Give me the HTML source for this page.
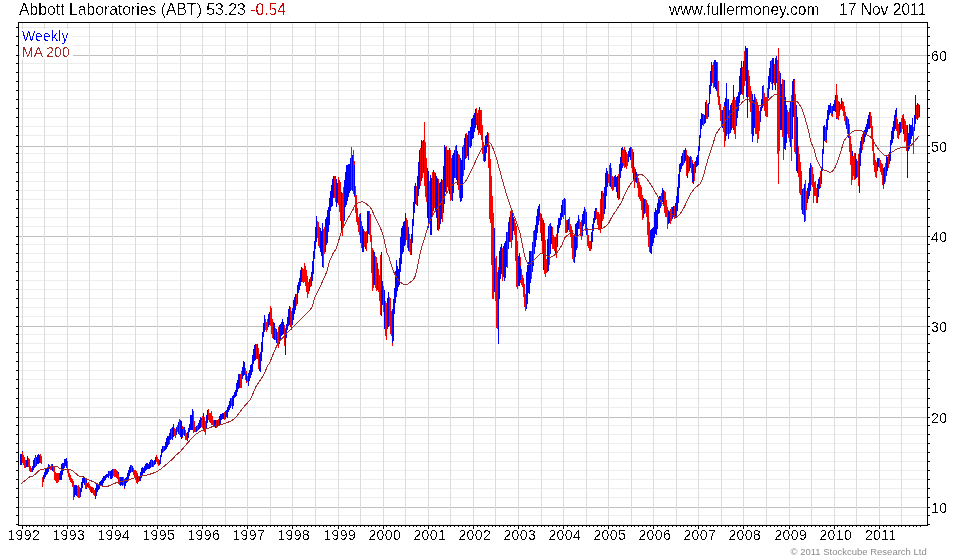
<!DOCTYPE html>
<html><head><meta charset="utf-8"><title>Abbott Laboratories (ABT)</title>
<style>
html,body{margin:0;padding:0;background:#fff;}
body{width:980px;height:560px;overflow:hidden;position:relative;font-family:"Liberation Sans",Arial,sans-serif;}
svg{position:absolute;left:0;top:0;}
svg text{font-family:"Liberation Sans",Arial,sans-serif;}
.ax{font-size:14px;letter-spacing:0.4px;fill:#000;}
.t{position:absolute;white-space:nowrap;line-height:1;filter:url(#al);}
#title{left:19px;top:2px;font-size:15.75px;color:#000;}
#title span{color:#cc0000;}
#site{left:669px;top:2px;font-size:15.6px;color:#000;}
#date{left:839px;top:2px;font-size:15.6px;color:#000;}
#wk{left:22px;top:28.6px;font-size:14px;letter-spacing:0.15px;color:#0000ff;}
#ma{left:22px;top:45px;font-size:14px;letter-spacing:0.05px;color:#a52a2a;}
#copy{left:790.5px;top:547px;font-size:9.5px;color:#8c8c8c;filter:none !important;}
</style></head><body>
<svg width="980" height="560" viewBox="0 0 980 560" shape-rendering="crispEdges"><defs><filter id="al" x="0" y="0" width="100%" height="100%" color-interpolation-filters="sRGB"><feComponentTransfer><feFuncA type="discrete" tableValues="0 0 0 1 1"/></feComponentTransfer></filter><filter id="al2" x="0" y="0" width="100%" height="100%" color-interpolation-filters="sRGB"><feComponentTransfer><feFuncA type="discrete" tableValues="0 0 1 1 1"/></feComponentTransfer></filter></defs><path d="M19 524.5H927M19 515.5H927M19 497.5H927M19 488.5H927M19 479.5H927M19 470.5H927M19 461.5H927M19 452.5H927M19 443.5H927M19 434.5H927M19 425.5H927M19 407.5H927M19 398.5H927M19 388.5H927M19 379.5H927M19 370.5H927M19 361.5H927M19 352.5H927M19 343.5H927M19 334.5H927M19 316.5H927M19 307.5H927M19 298.5H927M19 289.5H927M19 280.5H927M19 271.5H927M19 262.5H927M19 253.5H927M19 244.5H927M19 226.5H927M19 217.5H927M19 208.5H927M19 199.5H927M19 190.5H927M19 181.5H927M19 172.5H927M19 162.5H927M19 153.5H927M19 135.5H927M19 126.5H927M19 117.5H927M19 108.5H927M19 99.5H927M19 90.5H927M19 81.5H927M19 72.5H927M19 63.5H927M19 45.5H927M19 36.5H927M19 27.5H927" stroke="#ededed" stroke-width="1" fill="none"/><path d="M19 507.5H927M19 417.5H927M19 326.5H927M19 236.5H927M19 146.5H927M19 55.5H927" stroke="#c0c0c0" stroke-width="1" fill="none"/><path d="M22.5 23V525M44.5 23V525M67.5 23V525M89.5 23V525M112.5 23V525M135.5 23V525M157.5 23V525M180.5 23V525M202.5 23V525M225.5 23V525M247.5 23V525M270.5 23V525M292.5 23V525M315.5 23V525M338.5 23V525M360.5 23V525M383.5 23V525M405.5 23V525M428.5 23V525M450.5 23V525M473.5 23V525M495.5 23V525M518.5 23V525M541.5 23V525M563.5 23V525M586.5 23V525M608.5 23V525M631.5 23V525M653.5 23V525M676.5 23V525M698.5 23V525M721.5 23V525M743.5 23V525M766.5 23V525M789.5 23V525M811.5 23V525M834.5 23V525M856.5 23V525M879.5 23V525M901.5 23V525" stroke="#dcdcdc" stroke-width="1" fill="none"/><rect x="20" y="29" width="52" height="14" fill="#fff"/><rect x="20" y="44" width="53" height="15" fill="#fff"/><path d="M20.5 454V465M21.5 454V465M22.5 451V461" stroke="#0000ff" stroke-width="1" fill="none"/><path d="M22.5 452V463M23.5 455V465M24.5 457V468M25.5 460V468" stroke="#ff0000" stroke-width="1" fill="none"/><path d="M26.5 460V467M27.5 456V467" stroke="#0000ff" stroke-width="1" fill="none"/><path d="M28.5 458V467M29.5 459V469M29.5 462V471M30.5 466V472M31.5 468V472" stroke="#ff0000" stroke-width="1" fill="none"/><path d="M32.5 466V472M33.5 460V470M34.5 458V468M35.5 455V467" stroke="#0000ff" stroke-width="1" fill="none"/><path d="M35.5 457V466" stroke="#ff0000" stroke-width="1" fill="none"/><path d="M36.5 457V466M37.5 455V464M38.5 454V464M39.5 455V463" stroke="#0000ff" stroke-width="1" fill="none"/><path d="M40.5 454V463M41.5 456V464M42.5 477V487M42.5 477V485" stroke="#ff0000" stroke-width="1" fill="none"/><path d="M43.5 475V482M44.5 472V479M45.5 469V477M46.5 468V475M47.5 467V474M48.5 465V472M48.5 464V470M49.5 465V469" stroke="#0000ff" stroke-width="1" fill="none"/><path d="M50.5 466V470M51.5 464V470" stroke="#ff0000" stroke-width="1" fill="none"/><path d="M52.5 464V471" stroke="#0000ff" stroke-width="1" fill="none"/><path d="M53.5 466V472M54.5 467V477M54.5 471V480M55.5 472V481M56.5 473V483M57.5 473V483M58.5 473V482" stroke="#ff0000" stroke-width="1" fill="none"/><path d="M59.5 473V480M60.5 471V480M61.5 467V480M61.5 464V478M62.5 463V475M63.5 463V471M64.5 459V468M65.5 459V466M66.5 458V468" stroke="#0000ff" stroke-width="1" fill="none"/><path d="M67.5 461V469M67.5 464V473M68.5 469V477M69.5 473V480M70.5 475V482M71.5 478V483M72.5 479V487M73.5 481V495M73.5 484V500" stroke="#ff0000" stroke-width="1" fill="none"/><path d="M74.5 485V497M75.5 485V495M76.5 485V496" stroke="#0000ff" stroke-width="1" fill="none"/><path d="M77.5 486V497M78.5 485V498M79.5 487V498" stroke="#ff0000" stroke-width="1" fill="none"/><path d="M80.5 489V497M80.5 488V495M81.5 482V492M82.5 478V488M83.5 476V483M84.5 477V485" stroke="#0000ff" stroke-width="1" fill="none"/><path d="M85.5 479V489" stroke="#ff0000" stroke-width="1" fill="none"/><path d="M86.5 480V489" stroke="#0000ff" stroke-width="1" fill="none"/><path d="M86.5 483V488" stroke="#ff0000" stroke-width="1" fill="none"/><path d="M87.5 483V487" stroke="#0000ff" stroke-width="1" fill="none"/><path d="M88.5 482V488M89.5 484V490M90.5 486V492" stroke="#ff0000" stroke-width="1" fill="none"/><path d="M91.5 487V493" stroke="#0000ff" stroke-width="1" fill="none"/><path d="M92.5 487V493" stroke="#ff0000" stroke-width="1" fill="none"/><path d="M93.5 488V494" stroke="#0000ff" stroke-width="1" fill="none"/><path d="M93.5 489V495M94.5 490V496" stroke="#ff0000" stroke-width="1" fill="none"/><path d="M95.5 488V499M96.5 484V496M97.5 483V492M98.5 484V490M99.5 483V489M99.5 482V487M100.5 481V486M101.5 480V485M102.5 478V486M103.5 476V483M104.5 476V481M105.5 476V480M105.5 475V479M106.5 474V478M107.5 474V477M108.5 471V478" stroke="#0000ff" stroke-width="1" fill="none"/><path d="M109.5 471V476" stroke="#ff0000" stroke-width="1" fill="none"/><path d="M110.5 471V479M111.5 470V479M112.5 470V478M112.5 469V476" stroke="#0000ff" stroke-width="1" fill="none"/><path d="M113.5 469V476M114.5 469V477M115.5 469V477M116.5 470V478M117.5 471V479" stroke="#ff0000" stroke-width="1" fill="none"/><path d="M118.5 472V481" stroke="#0000ff" stroke-width="1" fill="none"/><path d="M118.5 474V484M119.5 477V485" stroke="#ff0000" stroke-width="1" fill="none"/><path d="M120.5 477V486M121.5 477V485M122.5 477V486" stroke="#0000ff" stroke-width="1" fill="none"/><path d="M123.5 477V485M124.5 479V489" stroke="#ff0000" stroke-width="1" fill="none"/><path d="M124.5 479V488M125.5 478V486M126.5 477V483M127.5 473V482M128.5 470V480M129.5 467V476M130.5 465V473M131.5 465V472" stroke="#0000ff" stroke-width="1" fill="none"/><path d="M131.5 465V472" stroke="#ff0000" stroke-width="1" fill="none"/><path d="M132.5 466V472" stroke="#0000ff" stroke-width="1" fill="none"/><path d="M133.5 468V475M134.5 470V477M135.5 470V480M136.5 471V483M137.5 473V484" stroke="#ff0000" stroke-width="1" fill="none"/><path d="M137.5 475V481" stroke="#0000ff" stroke-width="1" fill="none"/><path d="M138.5 477V482" stroke="#ff0000" stroke-width="1" fill="none"/><path d="M139.5 476V481M140.5 472V481M141.5 468V478M142.5 467V475M143.5 468V473M144.5 467V473M144.5 466V472M145.5 464V471M146.5 463V470M147.5 463V469M148.5 464V469M149.5 462V469M150.5 462V468M150.5 460V467" stroke="#0000ff" stroke-width="1" fill="none"/><path d="M151.5 459V467" stroke="#ff0000" stroke-width="1" fill="none"/><path d="M152.5 460V467" stroke="#0000ff" stroke-width="1" fill="none"/><path d="M153.5 461V467" stroke="#ff0000" stroke-width="1" fill="none"/><path d="M154.5 460V465M155.5 457V464M156.5 456V462" stroke="#0000ff" stroke-width="1" fill="none"/><path d="M156.5 455V462M157.5 457V464M158.5 459V466" stroke="#ff0000" stroke-width="1" fill="none"/><path d="M159.5 460V465M160.5 455V464M161.5 449V457M162.5 446V453" stroke="#0000ff" stroke-width="1" fill="none"/><path d="M163.5 446V452M163.5 446V451" stroke="#ff0000" stroke-width="1" fill="none"/><path d="M164.5 446V451M165.5 442V450M166.5 438V449M167.5 436V447M168.5 436V445" stroke="#0000ff" stroke-width="1" fill="none"/><path d="M169.5 433V444" stroke="#ff0000" stroke-width="1" fill="none"/><path d="M169.5 433V440M170.5 429V440" stroke="#0000ff" stroke-width="1" fill="none"/><path d="M171.5 428V439" stroke="#ff0000" stroke-width="1" fill="none"/><path d="M172.5 427V440M173.5 424V437" stroke="#0000ff" stroke-width="1" fill="none"/><path d="M174.5 428V436M175.5 429V438" stroke="#ff0000" stroke-width="1" fill="none"/><path d="M176.5 428V435M176.5 427V434" stroke="#0000ff" stroke-width="1" fill="none"/><path d="M177.5 425V432" stroke="#ff0000" stroke-width="1" fill="none"/><path d="M178.5 422V434" stroke="#0000ff" stroke-width="1" fill="none"/><path d="M179.5 419V435" stroke="#ff0000" stroke-width="1" fill="none"/><path d="M180.5 420V437M181.5 421V439" stroke="#0000ff" stroke-width="1" fill="none"/><path d="M182.5 426V438" stroke="#ff0000" stroke-width="1" fill="none"/><path d="M182.5 429V437" stroke="#0000ff" stroke-width="1" fill="none"/><path d="M183.5 427V435" stroke="#ff0000" stroke-width="1" fill="none"/><path d="M184.5 427V436" stroke="#0000ff" stroke-width="1" fill="none"/><path d="M185.5 430V440M186.5 433V440" stroke="#ff0000" stroke-width="1" fill="none"/><path d="M187.5 432V441M188.5 431V438M188.5 428V434M189.5 424V432M190.5 415V430M191.5 415V430M192.5 409V430" stroke="#0000ff" stroke-width="1" fill="none"/><path d="M193.5 411V433M194.5 421V432M195.5 427V431M195.5 427V432" stroke="#ff0000" stroke-width="1" fill="none"/><path d="M196.5 426V432" stroke="#0000ff" stroke-width="1" fill="none"/><path d="M197.5 425V431" stroke="#ff0000" stroke-width="1" fill="none"/><path d="M198.5 423V430M199.5 420V429M200.5 417V428M201.5 418V426" stroke="#0000ff" stroke-width="1" fill="none"/><path d="M201.5 420V427M202.5 416V428" stroke="#ff0000" stroke-width="1" fill="none"/><path d="M203.5 413V431" stroke="#0000ff" stroke-width="1" fill="none"/><path d="M204.5 417V432M205.5 421V435" stroke="#ff0000" stroke-width="1" fill="none"/><path d="M206.5 415V429M207.5 413V423M207.5 410V422" stroke="#0000ff" stroke-width="1" fill="none"/><path d="M208.5 409V420M209.5 413V422M210.5 413V423M211.5 411V425M212.5 416V425M213.5 420V426" stroke="#ff0000" stroke-width="1" fill="none"/><path d="M214.5 420V427M214.5 420V427M215.5 420V428" stroke="#0000ff" stroke-width="1" fill="none"/><path d="M216.5 420V428" stroke="#ff0000" stroke-width="1" fill="none"/><path d="M217.5 420V427" stroke="#0000ff" stroke-width="1" fill="none"/><path d="M218.5 419V426" stroke="#ff0000" stroke-width="1" fill="none"/><path d="M219.5 416V425M220.5 415V424M220.5 414V422M221.5 414V420M222.5 413V419M223.5 413V419" stroke="#0000ff" stroke-width="1" fill="none"/><path d="M224.5 412V420" stroke="#ff0000" stroke-width="1" fill="none"/><path d="M225.5 411V419M226.5 410V417M227.5 408V418M227.5 407V413M228.5 405V412M229.5 401V410M230.5 398V408" stroke="#0000ff" stroke-width="1" fill="none"/><path d="M231.5 398V406" stroke="#ff0000" stroke-width="1" fill="none"/><path d="M232.5 396V409M233.5 397V406M233.5 395V400M234.5 392V398M235.5 390V397M236.5 383V396M237.5 380V392M238.5 374V389" stroke="#0000ff" stroke-width="1" fill="none"/><path d="M239.5 374V388" stroke="#ff0000" stroke-width="1" fill="none"/><path d="M239.5 374V388" stroke="#0000ff" stroke-width="1" fill="none"/><path d="M240.5 374V388M241.5 371V388" stroke="#ff0000" stroke-width="1" fill="none"/><path d="M242.5 367V379M243.5 361V376M244.5 362V375" stroke="#0000ff" stroke-width="1" fill="none"/><path d="M245.5 368V380M246.5 371V383" stroke="#ff0000" stroke-width="1" fill="none"/><path d="M246.5 374V381" stroke="#0000ff" stroke-width="1" fill="none"/><path d="M247.5 376V382" stroke="#ff0000" stroke-width="1" fill="none"/><path d="M248.5 373V386M249.5 370V381M250.5 365V378M251.5 364V375M252.5 361V372M252.5 355V366M253.5 349V364M254.5 345V361M255.5 344V360" stroke="#0000ff" stroke-width="1" fill="none"/><path d="M256.5 344V359" stroke="#ff0000" stroke-width="1" fill="none"/><path d="M257.5 344V359" stroke="#0000ff" stroke-width="1" fill="none"/><path d="M258.5 348V362M258.5 349V369" stroke="#ff0000" stroke-width="1" fill="none"/><path d="M259.5 354V371M260.5 352V372M261.5 342V361M262.5 332V352M263.5 323V337M264.5 315V332M265.5 319V330" stroke="#0000ff" stroke-width="1" fill="none"/><path d="M265.5 319V330M266.5 322V332M267.5 319V330" stroke="#ff0000" stroke-width="1" fill="none"/><path d="M268.5 314V327M269.5 312V325" stroke="#0000ff" stroke-width="1" fill="none"/><path d="M270.5 306V326M271.5 308V331M271.5 313V334M272.5 319V338" stroke="#ff0000" stroke-width="1" fill="none"/><path d="M273.5 322V339M274.5 323V340" stroke="#0000ff" stroke-width="1" fill="none"/><path d="M275.5 328V340" stroke="#ff0000" stroke-width="1" fill="none"/><path d="M276.5 329V343" stroke="#0000ff" stroke-width="1" fill="none"/><path d="M277.5 332V345" stroke="#ff0000" stroke-width="1" fill="none"/><path d="M278.5 331V347" stroke="#0000ff" stroke-width="1" fill="none"/><path d="M278.5 327V348" stroke="#ff0000" stroke-width="1" fill="none"/><path d="M279.5 325V344M280.5 324V339M281.5 322V336M282.5 319V335M283.5 322V334" stroke="#0000ff" stroke-width="1" fill="none"/><path d="M284.5 325V337M284.5 327V346M285.5 328V352" stroke="#ff0000" stroke-width="1" fill="none"/><path d="M286.5 324V338M287.5 317V330M288.5 309V326M289.5 306V325" stroke="#0000ff" stroke-width="1" fill="none"/><path d="M290.5 307V325M290.5 312V327M291.5 311V330" stroke="#ff0000" stroke-width="1" fill="none"/><path d="M292.5 308V325M293.5 300V320M294.5 297V314M295.5 294V310" stroke="#0000ff" stroke-width="1" fill="none"/><path d="M296.5 294V306" stroke="#ff0000" stroke-width="1" fill="none"/><path d="M297.5 289V304M297.5 285V299M298.5 282V293M299.5 278V290M300.5 270V286M301.5 267V282" stroke="#0000ff" stroke-width="1" fill="none"/><path d="M302.5 268V282" stroke="#ff0000" stroke-width="1" fill="none"/><path d="M303.5 271V283" stroke="#0000ff" stroke-width="1" fill="none"/><path d="M303.5 269V283M304.5 263V282M305.5 266V286M306.5 270V292M307.5 276V298M308.5 282V294" stroke="#ff0000" stroke-width="1" fill="none"/><path d="M309.5 280V291M309.5 279V291" stroke="#0000ff" stroke-width="1" fill="none"/><path d="M310.5 277V287" stroke="#ff0000" stroke-width="1" fill="none"/><path d="M311.5 272V286M312.5 261V281M313.5 251V274M314.5 241V259M315.5 227V249M316.5 217V242M316.5 216V238" stroke="#0000ff" stroke-width="1" fill="none"/><path d="M317.5 221V238M318.5 222V246M319.5 227V248" stroke="#ff0000" stroke-width="1" fill="none"/><path d="M320.5 228V252M321.5 231V256M322.5 232V262M322.5 223V267" stroke="#0000ff" stroke-width="1" fill="none"/><path d="M323.5 229V259M324.5 227V254" stroke="#ff0000" stroke-width="1" fill="none"/><path d="M325.5 219V252M326.5 217V245M327.5 210V243M328.5 207V232M329.5 200V225M329.5 198V218M330.5 191V211M331.5 185V207M332.5 179V206M333.5 176V198" stroke="#0000ff" stroke-width="1" fill="none"/><path d="M334.5 176V198" stroke="#ff0000" stroke-width="1" fill="none"/><path d="M335.5 176V200" stroke="#0000ff" stroke-width="1" fill="none"/><path d="M335.5 178V202" stroke="#ff0000" stroke-width="1" fill="none"/><path d="M336.5 179V207M337.5 183V203" stroke="#0000ff" stroke-width="1" fill="none"/><path d="M338.5 177V205M339.5 180V212M340.5 182V221M341.5 194V228" stroke="#ff0000" stroke-width="1" fill="none"/><path d="M341.5 192V231" stroke="#0000ff" stroke-width="1" fill="none"/><path d="M342.5 193V236M343.5 187V228" stroke="#ff0000" stroke-width="1" fill="none"/><path d="M344.5 180V221M345.5 172V207M346.5 165V205M347.5 165V201" stroke="#0000ff" stroke-width="1" fill="none"/><path d="M348.5 166V196" stroke="#ff0000" stroke-width="1" fill="none"/><path d="M348.5 164V197M349.5 164V193M350.5 158V191" stroke="#0000ff" stroke-width="1" fill="none"/><path d="M351.5 150V190" stroke="#ff0000" stroke-width="1" fill="none"/><path d="M352.5 155V191" stroke="#0000ff" stroke-width="1" fill="none"/><path d="M353.5 150V194M354.5 161V197" stroke="#ff0000" stroke-width="1" fill="none"/><path d="M354.5 165V196" stroke="#0000ff" stroke-width="1" fill="none"/><path d="M355.5 186V213M356.5 195V222M357.5 208V225M358.5 217V232M359.5 214V235M360.5 213V240" stroke="#ff0000" stroke-width="1" fill="none"/><path d="M360.5 214V243" stroke="#0000ff" stroke-width="1" fill="none"/><path d="M361.5 221V248" stroke="#ff0000" stroke-width="1" fill="none"/><path d="M362.5 226V252M363.5 229V252" stroke="#0000ff" stroke-width="1" fill="none"/><path d="M364.5 231V247" stroke="#ff0000" stroke-width="1" fill="none"/><path d="M365.5 232V249" stroke="#0000ff" stroke-width="1" fill="none"/><path d="M366.5 231V251" stroke="#ff0000" stroke-width="1" fill="none"/><path d="M367.5 221V243M367.5 211V234M368.5 211V234" stroke="#0000ff" stroke-width="1" fill="none"/><path d="M369.5 211V235M370.5 214V242M371.5 235V273M372.5 248V291M373.5 250V288" stroke="#ff0000" stroke-width="1" fill="none"/><path d="M373.5 251V285M374.5 252V285" stroke="#0000ff" stroke-width="1" fill="none"/><path d="M375.5 256V288M376.5 257V291" stroke="#ff0000" stroke-width="1" fill="none"/><path d="M377.5 263V290" stroke="#0000ff" stroke-width="1" fill="none"/><path d="M378.5 269V292M379.5 275V301" stroke="#ff0000" stroke-width="1" fill="none"/><path d="M380.5 269V307" stroke="#0000ff" stroke-width="1" fill="none"/><path d="M380.5 255V315" stroke="#ff0000" stroke-width="1" fill="none"/><path d="M381.5 265V311M382.5 281V305" stroke="#0000ff" stroke-width="1" fill="none"/><path d="M383.5 286V312" stroke="#ff0000" stroke-width="1" fill="none"/><path d="M384.5 290V329" stroke="#0000ff" stroke-width="1" fill="none"/><path d="M385.5 301V336M386.5 306V340M386.5 303V333" stroke="#ff0000" stroke-width="1" fill="none"/><path d="M387.5 298V329M388.5 292V327" stroke="#0000ff" stroke-width="1" fill="none"/><path d="M389.5 297V326M390.5 298V334M391.5 311V336M392.5 318V346" stroke="#ff0000" stroke-width="1" fill="none"/><path d="M392.5 309V343M393.5 299V341M394.5 288V314M395.5 271V303M396.5 260V297M397.5 266V291M398.5 269V287M399.5 267V285M399.5 258V282M400.5 237V272M401.5 228V264M402.5 226V254M403.5 222V252M404.5 221V246" stroke="#0000ff" stroke-width="1" fill="none"/><path d="M405.5 219V245" stroke="#ff0000" stroke-width="1" fill="none"/><path d="M405.5 213V242" stroke="#0000ff" stroke-width="1" fill="none"/><path d="M406.5 218V240M407.5 220V248" stroke="#ff0000" stroke-width="1" fill="none"/><path d="M408.5 227V251" stroke="#0000ff" stroke-width="1" fill="none"/><path d="M409.5 234V252M410.5 239V255" stroke="#ff0000" stroke-width="1" fill="none"/><path d="M411.5 242V255M411.5 234V252M412.5 219V243M413.5 202V226M414.5 186V213M415.5 183V204" stroke="#0000ff" stroke-width="1" fill="none"/><path d="M416.5 186V205" stroke="#ff0000" stroke-width="1" fill="none"/><path d="M417.5 176V206M418.5 171V196M418.5 162V193M419.5 150V189" stroke="#0000ff" stroke-width="1" fill="none"/><path d="M420.5 148V186" stroke="#ff0000" stroke-width="1" fill="none"/><path d="M421.5 140V181" stroke="#0000ff" stroke-width="1" fill="none"/><path d="M422.5 141V178" stroke="#ff0000" stroke-width="1" fill="none"/><path d="M423.5 140V173" stroke="#0000ff" stroke-width="1" fill="none"/><path d="M424.5 128V177M424.5 125V186M425.5 142V197M426.5 158V202" stroke="#ff0000" stroke-width="1" fill="none"/><path d="M427.5 168V218M428.5 171V228" stroke="#0000ff" stroke-width="1" fill="none"/><path d="M429.5 181V224" stroke="#ff0000" stroke-width="1" fill="none"/><path d="M430.5 175V235M431.5 178V235M431.5 182V225" stroke="#0000ff" stroke-width="1" fill="none"/><path d="M432.5 172V216" stroke="#ff0000" stroke-width="1" fill="none"/><path d="M433.5 170V211" stroke="#0000ff" stroke-width="1" fill="none"/><path d="M434.5 172V208" stroke="#ff0000" stroke-width="1" fill="none"/><path d="M435.5 173V212M436.5 176V218" stroke="#0000ff" stroke-width="1" fill="none"/><path d="M437.5 178V219" stroke="#ff0000" stroke-width="1" fill="none"/><path d="M437.5 179V230" stroke="#0000ff" stroke-width="1" fill="none"/><path d="M438.5 179V231" stroke="#ff0000" stroke-width="1" fill="none"/><path d="M439.5 183V229M440.5 182V224M441.5 179V219" stroke="#0000ff" stroke-width="1" fill="none"/><path d="M442.5 180V222" stroke="#ff0000" stroke-width="1" fill="none"/><path d="M443.5 178V213M443.5 166V211M444.5 145V204M445.5 147V192" stroke="#0000ff" stroke-width="1" fill="none"/><path d="M446.5 146V192" stroke="#ff0000" stroke-width="1" fill="none"/><path d="M447.5 150V187" stroke="#0000ff" stroke-width="1" fill="none"/><path d="M448.5 150V189" stroke="#ff0000" stroke-width="1" fill="none"/><path d="M449.5 148V194" stroke="#0000ff" stroke-width="1" fill="none"/><path d="M450.5 150V199M450.5 156V201M451.5 158V200" stroke="#ff0000" stroke-width="1" fill="none"/><path d="M452.5 155V201M453.5 153V193M454.5 150V178" stroke="#0000ff" stroke-width="1" fill="none"/><path d="M455.5 146V178" stroke="#ff0000" stroke-width="1" fill="none"/><path d="M456.5 149V176M456.5 145V180M457.5 151V185" stroke="#0000ff" stroke-width="1" fill="none"/><path d="M458.5 154V190M459.5 155V198" stroke="#ff0000" stroke-width="1" fill="none"/><path d="M460.5 158V202M461.5 160V201M462.5 155V198M462.5 147V189" stroke="#0000ff" stroke-width="1" fill="none"/><path d="M463.5 145V176" stroke="#ff0000" stroke-width="1" fill="none"/><path d="M464.5 138V170M465.5 134V159" stroke="#0000ff" stroke-width="1" fill="none"/><path d="M466.5 133V158" stroke="#ff0000" stroke-width="1" fill="none"/><path d="M467.5 135V156M468.5 131V160M469.5 131V147" stroke="#0000ff" stroke-width="1" fill="none"/><path d="M469.5 133V146" stroke="#ff0000" stroke-width="1" fill="none"/><path d="M470.5 127V148M471.5 119V146M472.5 118V139M473.5 115V138M474.5 113V132M475.5 110V128M475.5 109V125" stroke="#0000ff" stroke-width="1" fill="none"/><path d="M476.5 108V125" stroke="#ff0000" stroke-width="1" fill="none"/><path d="M477.5 113V130" stroke="#0000ff" stroke-width="1" fill="none"/><path d="M478.5 110V135" stroke="#ff0000" stroke-width="1" fill="none"/><path d="M479.5 107V133" stroke="#0000ff" stroke-width="1" fill="none"/><path d="M480.5 110V135M481.5 110V140M482.5 125V144M482.5 138V154M483.5 142V161" stroke="#ff0000" stroke-width="1" fill="none"/><path d="M484.5 146V162M485.5 136V161M486.5 135V153M487.5 132V147" stroke="#0000ff" stroke-width="1" fill="none"/><path d="M488.5 133V148M488.5 136V168M489.5 145V219M490.5 159V223M491.5 176V265M492.5 196V299M493.5 213V299" stroke="#ff0000" stroke-width="1" fill="none"/><path d="M494.5 228V290M494.5 240V292" stroke="#0000ff" stroke-width="1" fill="none"/><path d="M495.5 258V301M496.5 256V328M497.5 272V329M498.5 267V338" stroke="#ff0000" stroke-width="1" fill="none"/><path d="M499.5 251V299M500.5 247V279M501.5 244V273M501.5 245V274" stroke="#0000ff" stroke-width="1" fill="none"/><path d="M502.5 248V281" stroke="#ff0000" stroke-width="1" fill="none"/><path d="M503.5 246V277M504.5 243V281M505.5 241V278M506.5 232V267" stroke="#0000ff" stroke-width="1" fill="none"/><path d="M507.5 233V262M507.5 232V268" stroke="#ff0000" stroke-width="1" fill="none"/><path d="M508.5 222V249M509.5 217V242" stroke="#0000ff" stroke-width="1" fill="none"/><path d="M510.5 211V242M511.5 209V248" stroke="#ff0000" stroke-width="1" fill="none"/><path d="M512.5 211V240M513.5 217V231" stroke="#0000ff" stroke-width="1" fill="none"/><path d="M514.5 219V232M514.5 222V235M515.5 223V261M516.5 226V287M517.5 241V289" stroke="#ff0000" stroke-width="1" fill="none"/><path d="M518.5 256V286M519.5 253V286" stroke="#0000ff" stroke-width="1" fill="none"/><path d="M520.5 257V283" stroke="#ff0000" stroke-width="1" fill="none"/><path d="M520.5 266V280" stroke="#0000ff" stroke-width="1" fill="none"/><path d="M521.5 269V285M522.5 275V287M523.5 278V297M524.5 284V307M525.5 294V311" stroke="#ff0000" stroke-width="1" fill="none"/><path d="M526.5 293V305M526.5 272V309M527.5 265V304M528.5 262V293M529.5 251V294M530.5 251V283" stroke="#0000ff" stroke-width="1" fill="none"/><path d="M531.5 251V279" stroke="#ff0000" stroke-width="1" fill="none"/><path d="M532.5 242V272M533.5 234V266" stroke="#0000ff" stroke-width="1" fill="none"/><path d="M533.5 231V263" stroke="#ff0000" stroke-width="1" fill="none"/><path d="M534.5 230V254M535.5 225V247M536.5 216V240M537.5 209V233M538.5 206V225" stroke="#0000ff" stroke-width="1" fill="none"/><path d="M539.5 207V221" stroke="#ff0000" stroke-width="1" fill="none"/><path d="M539.5 204V217" stroke="#0000ff" stroke-width="1" fill="none"/><path d="M540.5 213V233" stroke="#ff0000" stroke-width="1" fill="none"/><path d="M541.5 214V241" stroke="#0000ff" stroke-width="1" fill="none"/><path d="M542.5 218V254" stroke="#ff0000" stroke-width="1" fill="none"/><path d="M543.5 220V270" stroke="#0000ff" stroke-width="1" fill="none"/><path d="M544.5 223V274M545.5 240V276M545.5 258V277M546.5 259V273" stroke="#ff0000" stroke-width="1" fill="none"/><path d="M547.5 239V272M548.5 226V271" stroke="#0000ff" stroke-width="1" fill="none"/><path d="M549.5 224V265" stroke="#ff0000" stroke-width="1" fill="none"/><path d="M550.5 223V254M551.5 226V244" stroke="#0000ff" stroke-width="1" fill="none"/><path d="M552.5 227V249M552.5 231V248M553.5 235V249M554.5 237V251" stroke="#ff0000" stroke-width="1" fill="none"/><path d="M555.5 237V254" stroke="#0000ff" stroke-width="1" fill="none"/><path d="M556.5 234V258" stroke="#ff0000" stroke-width="1" fill="none"/><path d="M557.5 225V247M558.5 218V233M558.5 219V229M559.5 218V228M560.5 213V225M561.5 205V220M562.5 200V217" stroke="#0000ff" stroke-width="1" fill="none"/><path d="M563.5 199V219" stroke="#ff0000" stroke-width="1" fill="none"/><path d="M564.5 198V215" stroke="#0000ff" stroke-width="1" fill="none"/><path d="M565.5 199V228M565.5 212V233M566.5 220V233" stroke="#ff0000" stroke-width="1" fill="none"/><path d="M567.5 220V232M568.5 219V230" stroke="#0000ff" stroke-width="1" fill="none"/><path d="M569.5 217V232M570.5 224V237M571.5 226V241M571.5 231V248M572.5 230V259M573.5 235V262" stroke="#ff0000" stroke-width="1" fill="none"/><path d="M574.5 236V263M575.5 224V257M576.5 223V250" stroke="#0000ff" stroke-width="1" fill="none"/><path d="M577.5 222V248" stroke="#ff0000" stroke-width="1" fill="none"/><path d="M577.5 221V236M578.5 215V229" stroke="#0000ff" stroke-width="1" fill="none"/><path d="M579.5 219V229M580.5 222V236M581.5 220V240" stroke="#ff0000" stroke-width="1" fill="none"/><path d="M582.5 214V236M583.5 211V226M584.5 207V224M584.5 207V224" stroke="#0000ff" stroke-width="1" fill="none"/><path d="M585.5 209V231" stroke="#ff0000" stroke-width="1" fill="none"/><path d="M586.5 212V235" stroke="#0000ff" stroke-width="1" fill="none"/><path d="M587.5 228V246M588.5 235V248M589.5 241V251" stroke="#ff0000" stroke-width="1" fill="none"/><path d="M590.5 241V251" stroke="#0000ff" stroke-width="1" fill="none"/><path d="M590.5 241V251" stroke="#ff0000" stroke-width="1" fill="none"/><path d="M591.5 232V249M592.5 224V242M593.5 218V231M594.5 211V223M595.5 208V220M596.5 208V217" stroke="#0000ff" stroke-width="1" fill="none"/><path d="M596.5 210V219M597.5 212V225M598.5 212V229M599.5 214V230M600.5 199V233" stroke="#ff0000" stroke-width="1" fill="none"/><path d="M601.5 191V228" stroke="#0000ff" stroke-width="1" fill="none"/><path d="M602.5 191V221" stroke="#ff0000" stroke-width="1" fill="none"/><path d="M603.5 193V216" stroke="#0000ff" stroke-width="1" fill="none"/><path d="M603.5 196V219" stroke="#ff0000" stroke-width="1" fill="none"/><path d="M604.5 187V214M605.5 173V209M606.5 168V196M607.5 171V187" stroke="#0000ff" stroke-width="1" fill="none"/><path d="M608.5 174V183M609.5 172V184M609.5 165V186" stroke="#ff0000" stroke-width="1" fill="none"/><path d="M610.5 163V187" stroke="#0000ff" stroke-width="1" fill="none"/><path d="M611.5 168V189M612.5 176V191M613.5 177V190" stroke="#ff0000" stroke-width="1" fill="none"/><path d="M614.5 176V187M615.5 175V187M616.5 178V186M616.5 177V192M617.5 176V198" stroke="#0000ff" stroke-width="1" fill="none"/><path d="M618.5 174V200" stroke="#ff0000" stroke-width="1" fill="none"/><path d="M619.5 164V199M620.5 157V178M621.5 148V171M622.5 147V168" stroke="#0000ff" stroke-width="1" fill="none"/><path d="M622.5 150V163M623.5 149V166M624.5 147V168" stroke="#ff0000" stroke-width="1" fill="none"/><path d="M625.5 150V167" stroke="#0000ff" stroke-width="1" fill="none"/><path d="M626.5 152V169M627.5 154V166" stroke="#ff0000" stroke-width="1" fill="none"/><path d="M628.5 153V162M628.5 151V159M629.5 148V157M630.5 147V160" stroke="#0000ff" stroke-width="1" fill="none"/><path d="M631.5 147V168M632.5 149V173" stroke="#ff0000" stroke-width="1" fill="none"/><path d="M633.5 152V180" stroke="#0000ff" stroke-width="1" fill="none"/><path d="M634.5 167V188" stroke="#ff0000" stroke-width="1" fill="none"/><path d="M635.5 169V182M635.5 171V181M636.5 172V183" stroke="#0000ff" stroke-width="1" fill="none"/><path d="M637.5 174V188M638.5 178V197M639.5 182V199M640.5 185V201M641.5 187V204M641.5 190V210M642.5 195V220" stroke="#ff0000" stroke-width="1" fill="none"/><path d="M643.5 198V218M644.5 199V214" stroke="#0000ff" stroke-width="1" fill="none"/><path d="M645.5 199V213M646.5 200V217M647.5 204V224M647.5 203V235M648.5 205V247M649.5 222V252" stroke="#ff0000" stroke-width="1" fill="none"/><path d="M650.5 230V253M651.5 229V254M652.5 228V246M653.5 227V243M654.5 221V238M654.5 212V233M655.5 208V234M656.5 210V235M657.5 203V229M658.5 199V214M659.5 196V213M660.5 196V208M660.5 196V207" stroke="#0000ff" stroke-width="1" fill="none"/><path d="M661.5 193V206" stroke="#ff0000" stroke-width="1" fill="none"/><path d="M662.5 188V202M663.5 190V205" stroke="#0000ff" stroke-width="1" fill="none"/><path d="M664.5 191V213M665.5 192V217M666.5 200V217M667.5 207V225M667.5 209V229" stroke="#ff0000" stroke-width="1" fill="none"/><path d="M668.5 210V224M669.5 211V223" stroke="#0000ff" stroke-width="1" fill="none"/><path d="M670.5 209V224M671.5 207V221" stroke="#ff0000" stroke-width="1" fill="none"/><path d="M672.5 207V219M673.5 208V217M673.5 206V216" stroke="#0000ff" stroke-width="1" fill="none"/><path d="M674.5 206V219" stroke="#ff0000" stroke-width="1" fill="none"/><path d="M675.5 203V218M676.5 196V218M677.5 187V211M678.5 174V203M679.5 164V188M679.5 165V177M680.5 163V172M681.5 156V169M682.5 153V166" stroke="#0000ff" stroke-width="1" fill="none"/><path d="M683.5 150V165" stroke="#ff0000" stroke-width="1" fill="none"/><path d="M684.5 150V163M685.5 148V161" stroke="#0000ff" stroke-width="1" fill="none"/><path d="M686.5 150V165M686.5 152V176" stroke="#ff0000" stroke-width="1" fill="none"/><path d="M687.5 155V178" stroke="#0000ff" stroke-width="1" fill="none"/><path d="M688.5 156V173" stroke="#ff0000" stroke-width="1" fill="none"/><path d="M689.5 157V171M690.5 156V168" stroke="#0000ff" stroke-width="1" fill="none"/><path d="M691.5 157V173M692.5 160V183" stroke="#ff0000" stroke-width="1" fill="none"/><path d="M692.5 163V182M693.5 164V184" stroke="#0000ff" stroke-width="1" fill="none"/><path d="M694.5 162V181" stroke="#ff0000" stroke-width="1" fill="none"/><path d="M695.5 161V173M696.5 157V167M697.5 155V166M698.5 152V165M698.5 146V160M699.5 135V151M700.5 119V138M701.5 113V129M702.5 114V125" stroke="#0000ff" stroke-width="1" fill="none"/><path d="M703.5 114V126" stroke="#ff0000" stroke-width="1" fill="none"/><path d="M704.5 115V124M705.5 111V123M705.5 102V122" stroke="#0000ff" stroke-width="1" fill="none"/><path d="M706.5 100V119M707.5 104V119" stroke="#ff0000" stroke-width="1" fill="none"/><path d="M708.5 103V117M709.5 85V104M710.5 71V94M711.5 67V86M711.5 62V76" stroke="#0000ff" stroke-width="1" fill="none"/><path d="M712.5 65V83M713.5 62V88" stroke="#ff0000" stroke-width="1" fill="none"/><path d="M714.5 60V87M715.5 60V89M716.5 62V91" stroke="#0000ff" stroke-width="1" fill="none"/><path d="M717.5 62V97M718.5 81V100M718.5 90V105M719.5 96V110M720.5 104V121M721.5 110V127" stroke="#ff0000" stroke-width="1" fill="none"/><path d="M722.5 110V128" stroke="#0000ff" stroke-width="1" fill="none"/><path d="M723.5 107V132" stroke="#ff0000" stroke-width="1" fill="none"/><path d="M724.5 102V146" stroke="#0000ff" stroke-width="1" fill="none"/><path d="M724.5 106V147" stroke="#ff0000" stroke-width="1" fill="none"/><path d="M725.5 98V141M726.5 93V136" stroke="#0000ff" stroke-width="1" fill="none"/><path d="M727.5 99V134" stroke="#ff0000" stroke-width="1" fill="none"/><path d="M728.5 99V139" stroke="#0000ff" stroke-width="1" fill="none"/><path d="M729.5 110V134" stroke="#ff0000" stroke-width="1" fill="none"/><path d="M730.5 112V131M730.5 105V133M731.5 103V130" stroke="#0000ff" stroke-width="1" fill="none"/><path d="M732.5 100V128" stroke="#ff0000" stroke-width="1" fill="none"/><path d="M733.5 98V127" stroke="#0000ff" stroke-width="1" fill="none"/><path d="M734.5 97V134M735.5 100V139" stroke="#ff0000" stroke-width="1" fill="none"/><path d="M736.5 97V126M737.5 96V118M737.5 98V116M738.5 92V111M739.5 76V103M740.5 68V95M741.5 61V94" stroke="#0000ff" stroke-width="1" fill="none"/><path d="M742.5 67V95M743.5 69V99" stroke="#ff0000" stroke-width="1" fill="none"/><path d="M743.5 61V92" stroke="#0000ff" stroke-width="1" fill="none"/><path d="M744.5 51V86" stroke="#ff0000" stroke-width="1" fill="none"/><path d="M745.5 46V81M746.5 48V97" stroke="#0000ff" stroke-width="1" fill="none"/><path d="M747.5 55V111M748.5 70V97M749.5 76V100M749.5 83V102M750.5 86V112M751.5 91V134" stroke="#ff0000" stroke-width="1" fill="none"/><path d="M752.5 94V142M753.5 100V136M754.5 94V128" stroke="#0000ff" stroke-width="1" fill="none"/><path d="M755.5 97V134M756.5 99V126M756.5 100V134M757.5 102V143M758.5 106V139M759.5 111V131" stroke="#ff0000" stroke-width="1" fill="none"/><path d="M760.5 107V122M761.5 99V111M762.5 90V108M762.5 86V104" stroke="#0000ff" stroke-width="1" fill="none"/><path d="M763.5 85V106M764.5 93V111M765.5 97V116M766.5 97V117M767.5 88V117" stroke="#ff0000" stroke-width="1" fill="none"/><path d="M768.5 76V98M769.5 71V89M769.5 68V84M770.5 61V82" stroke="#0000ff" stroke-width="1" fill="none"/><path d="M771.5 60V84" stroke="#ff0000" stroke-width="1" fill="none"/><path d="M772.5 58V90M773.5 58V83" stroke="#0000ff" stroke-width="1" fill="none"/><path d="M774.5 64V85" stroke="#ff0000" stroke-width="1" fill="none"/><path d="M775.5 60V90M775.5 58V85M776.5 56V83" stroke="#0000ff" stroke-width="1" fill="none"/><path d="M777.5 60V154M778.5 51V180M779.5 71V151" stroke="#ff0000" stroke-width="1" fill="none"/><path d="M780.5 73V130M781.5 86V124M781.5 84V130" stroke="#0000ff" stroke-width="1" fill="none"/><path d="M782.5 79V137M783.5 80V158" stroke="#ff0000" stroke-width="1" fill="none"/><path d="M784.5 80V149M785.5 97V150M786.5 105V143" stroke="#0000ff" stroke-width="1" fill="none"/><path d="M787.5 110V134M788.5 112V137M788.5 114V138M789.5 108V142" stroke="#ff0000" stroke-width="1" fill="none"/><path d="M790.5 101V147" stroke="#0000ff" stroke-width="1" fill="none"/><path d="M791.5 95V161" stroke="#ff0000" stroke-width="1" fill="none"/><path d="M792.5 81V139M793.5 79V117M794.5 79V113" stroke="#0000ff" stroke-width="1" fill="none"/><path d="M794.5 80V152M795.5 94V154" stroke="#ff0000" stroke-width="1" fill="none"/><path d="M796.5 105V171M797.5 117V173" stroke="#0000ff" stroke-width="1" fill="none"/><path d="M798.5 146V177M799.5 154V193M800.5 162V195M801.5 171V204M801.5 191V210" stroke="#ff0000" stroke-width="1" fill="none"/><path d="M802.5 189V214" stroke="#0000ff" stroke-width="1" fill="none"/><path d="M803.5 188V215" stroke="#ff0000" stroke-width="1" fill="none"/><path d="M804.5 184V222" stroke="#0000ff" stroke-width="1" fill="none"/><path d="M805.5 180V221M806.5 191V210" stroke="#ff0000" stroke-width="1" fill="none"/><path d="M807.5 191V203M807.5 188V200M808.5 183V199M809.5 168V196M810.5 163V191" stroke="#0000ff" stroke-width="1" fill="none"/><path d="M811.5 165V185M812.5 167V187M813.5 174V196M813.5 183V203M814.5 182V196M815.5 181V196M816.5 188V203" stroke="#ff0000" stroke-width="1" fill="none"/><path d="M817.5 184V203M818.5 179V197M819.5 177V189M820.5 173V188" stroke="#0000ff" stroke-width="1" fill="none"/><path d="M820.5 171V187" stroke="#ff0000" stroke-width="1" fill="none"/><path d="M821.5 168V184M822.5 149V171M823.5 126V154M824.5 125V141" stroke="#0000ff" stroke-width="1" fill="none"/><path d="M825.5 127V142M826.5 126V143" stroke="#ff0000" stroke-width="1" fill="none"/><path d="M826.5 119V140M827.5 110V130M828.5 105V120M829.5 105V115M830.5 103V113" stroke="#0000ff" stroke-width="1" fill="none"/><path d="M831.5 106V116M832.5 107V117" stroke="#ff0000" stroke-width="1" fill="none"/><path d="M832.5 106V114M833.5 104V111M834.5 100V111M835.5 95V112M836.5 85V119" stroke="#0000ff" stroke-width="1" fill="none"/><path d="M837.5 95V119M838.5 101V120M839.5 103V116" stroke="#ff0000" stroke-width="1" fill="none"/><path d="M839.5 102V112" stroke="#0000ff" stroke-width="1" fill="none"/><path d="M840.5 104V110" stroke="#ff0000" stroke-width="1" fill="none"/><path d="M841.5 98V109" stroke="#0000ff" stroke-width="1" fill="none"/><path d="M842.5 101V111M843.5 102V116M844.5 106V121M845.5 112V123M845.5 115V125" stroke="#ff0000" stroke-width="1" fill="none"/><path d="M846.5 116V129" stroke="#0000ff" stroke-width="1" fill="none"/><path d="M847.5 117V134" stroke="#ff0000" stroke-width="1" fill="none"/><path d="M848.5 119V138" stroke="#0000ff" stroke-width="1" fill="none"/><path d="M849.5 124V152M850.5 136V165M851.5 144V185" stroke="#ff0000" stroke-width="1" fill="none"/><path d="M852.5 151V180" stroke="#0000ff" stroke-width="1" fill="none"/><path d="M852.5 156V180M853.5 156V176M854.5 153V180" stroke="#ff0000" stroke-width="1" fill="none"/><path d="M855.5 153V179M856.5 159V178" stroke="#0000ff" stroke-width="1" fill="none"/><path d="M857.5 161V177M858.5 161V179M858.5 154V186M859.5 148V192" stroke="#ff0000" stroke-width="1" fill="none"/><path d="M860.5 141V166M861.5 137V153" stroke="#0000ff" stroke-width="1" fill="none"/><path d="M862.5 134V150" stroke="#ff0000" stroke-width="1" fill="none"/><path d="M863.5 133V144M864.5 132V142M864.5 130V138M865.5 127V137M866.5 124V134M867.5 119V132M868.5 115V129M869.5 112V129" stroke="#0000ff" stroke-width="1" fill="none"/><path d="M870.5 112V128M871.5 116V134M871.5 120V139M872.5 126V151M873.5 139V165M874.5 153V172M875.5 160V177M876.5 162V178" stroke="#ff0000" stroke-width="1" fill="none"/><path d="M877.5 158V171M877.5 158V168M878.5 158V167" stroke="#0000ff" stroke-width="1" fill="none"/><path d="M879.5 158V168M880.5 160V172M881.5 163V175M882.5 164V185M883.5 170V189" stroke="#ff0000" stroke-width="1" fill="none"/><path d="M883.5 168V186M884.5 167V184" stroke="#0000ff" stroke-width="1" fill="none"/><path d="M885.5 163V182" stroke="#ff0000" stroke-width="1" fill="none"/><path d="M886.5 155V176M887.5 157V171" stroke="#0000ff" stroke-width="1" fill="none"/><path d="M888.5 155V168" stroke="#ff0000" stroke-width="1" fill="none"/><path d="M889.5 152V164M890.5 146V161M890.5 140V152M891.5 131V145M892.5 127V143M893.5 121V139M894.5 115V131M895.5 110V129M896.5 108V124" stroke="#0000ff" stroke-width="1" fill="none"/><path d="M896.5 117V131M897.5 119V138M898.5 124V139" stroke="#ff0000" stroke-width="1" fill="none"/><path d="M899.5 122V135M900.5 122V133" stroke="#0000ff" stroke-width="1" fill="none"/><path d="M901.5 118V132M902.5 115V129M903.5 114V128" stroke="#ff0000" stroke-width="1" fill="none"/><path d="M903.5 117V134" stroke="#0000ff" stroke-width="1" fill="none"/><path d="M904.5 119V142M905.5 121V141M906.5 125V151M907.5 136V158" stroke="#ff0000" stroke-width="1" fill="none"/><path d="M908.5 133V151M909.5 127V149M909.5 124V148M910.5 125V144M911.5 125V139M912.5 118V136" stroke="#0000ff" stroke-width="1" fill="none"/><path d="M913.5 127V154" stroke="#ff0000" stroke-width="1" fill="none"/><path d="M914.5 115V131M915.5 100V124M915.5 103V120" stroke="#0000ff" stroke-width="1" fill="none"/><path d="M916.5 105V119" stroke="#ff0000" stroke-width="1" fill="none"/><path d="M917.5 103V120" stroke="#0000ff" stroke-width="1" fill="none"/><path d="M918.5 104V118" stroke="#ff0000" stroke-width="1" fill="none"/><path d="M919.5 105V117" stroke="#0000ff" stroke-width="1" fill="none"/><path d="M778.5 48V184" stroke="#ff0000" stroke-width="1"/><path d="M747.5 48V118" stroke="#0000ff" stroke-width="1"/><path d="M498.5 270V344" stroke="#0000ff" stroke-width="1"/><path d="M907.5 125V178" stroke="#0000ff" stroke-width="1"/><path d="M859.5 153V193" stroke="#0000ff" stroke-width="1"/><path d="M783.5 80V160" stroke="#ff0000" stroke-width="1"/><path d="M726.5 83V134" stroke="#0000ff" stroke-width="1"/><path d="M733.5 85V130" stroke="#0000ff" stroke-width="1"/><path d="M381.5 252V316" stroke="#0000ff" stroke-width="1"/><path d="M323.5 230V268" stroke="#ff0000" stroke-width="1"/><path d="M285.5 330V355" stroke="#0000ff" stroke-width="1"/><path d="M915.5 95V121" stroke="#0000ff" stroke-width="1"/><path d="M836.5 84V118" stroke="#ff0000" stroke-width="1"/><path d="M351.5 147V189" stroke="#ff0000" stroke-width="1"/><path d="M424.5 122V160" stroke="#ff0000" stroke-width="1"/><path d="M20.90 483.70C21.55 483.22 23.33 481.95 24.80 480.80C26.27 479.65 28.38 477.55 29.70 476.80C31.02 476.05 31.55 476.95 32.70 476.30C33.85 475.65 35.30 474.03 36.60 472.90C37.90 471.77 39.18 470.15 40.50 469.50C41.82 468.85 43.02 469.42 44.50 469.00C45.98 468.58 48.10 467.45 49.40 467.00C50.70 466.55 51.15 466.42 52.30 466.30C53.45 466.18 55.35 466.15 56.30 466.30C57.25 466.45 57.07 466.72 58.00 467.20C58.93 467.68 60.10 468.87 61.90 469.20C63.70 469.53 66.83 468.80 68.80 469.20C70.77 469.60 72.07 470.47 73.70 471.60C75.33 472.73 77.12 475.10 78.60 476.00C80.08 476.90 81.12 476.42 82.60 477.00C84.08 477.58 85.87 478.77 87.50 479.50C89.13 480.23 90.77 480.67 92.40 481.40C94.03 482.13 95.83 483.15 97.30 483.90C98.77 484.65 99.88 485.47 101.20 485.90C102.52 486.33 104.07 486.45 105.20 486.50C106.33 486.55 105.90 486.92 108.00 486.20C110.10 485.48 114.53 483.18 117.80 482.20C121.07 481.22 124.32 481.20 127.60 480.30C130.88 479.40 134.22 477.70 137.50 476.80C140.78 475.90 144.35 475.63 147.30 474.90C150.25 474.17 153.07 473.30 155.20 472.40C157.33 471.50 158.58 470.55 160.10 469.50C161.62 468.45 162.88 467.27 164.30 466.10C165.72 464.93 167.42 463.52 168.60 462.50C169.78 461.48 170.12 461.25 171.40 460.00C172.68 458.75 174.68 456.55 176.30 455.00C177.92 453.45 179.42 452.48 181.10 450.70C182.78 448.92 184.80 446.17 186.40 444.30C188.00 442.43 189.08 441.20 190.70 439.50C192.32 437.80 194.32 435.53 196.10 434.10C197.88 432.67 199.62 431.78 201.40 430.90C203.18 430.02 204.65 429.60 206.80 428.80C208.95 428.00 212.52 426.53 214.30 426.10C216.08 425.67 216.55 426.38 217.50 426.20C218.45 426.02 218.33 425.62 220.00 425.00C221.67 424.38 225.42 423.33 227.50 422.50C229.58 421.67 231.05 420.93 232.50 420.00C233.95 419.07 234.95 418.25 236.20 416.90C237.45 415.55 238.53 413.78 240.00 411.90C241.47 410.02 243.33 407.58 245.00 405.60C246.67 403.62 248.85 401.57 250.00 400.00C251.15 398.43 250.87 398.50 251.90 396.20C252.93 393.90 254.85 388.80 256.20 386.20C257.55 383.60 258.73 382.57 260.00 380.60C261.27 378.63 262.55 376.80 263.80 374.40C265.05 372.00 266.47 368.28 267.50 366.20C268.53 364.12 268.30 365.55 270.00 361.90C271.70 358.25 274.78 349.20 277.70 344.30C280.62 339.40 284.22 336.10 287.50 332.50C290.78 328.90 294.45 325.65 297.40 322.70C300.35 319.75 302.75 317.42 305.20 314.80C307.65 312.18 310.58 309.62 312.10 307.00C313.62 304.38 312.75 302.95 314.30 299.10C315.85 295.25 319.32 288.52 321.40 283.90C323.48 279.28 325.45 275.12 326.80 271.40C328.15 267.68 328.33 264.83 329.50 261.60C330.67 258.37 332.65 254.28 333.80 252.00C334.95 249.72 335.10 251.40 336.40 247.90C337.70 244.40 340.52 234.23 341.60 231.00C342.68 227.77 341.90 230.50 342.90 228.50C343.90 226.50 345.85 222.28 347.60 219.00C349.35 215.72 352.17 211.12 353.40 208.80C354.63 206.48 354.07 206.17 355.00 205.10C355.93 204.03 357.55 202.88 359.00 202.40C360.45 201.92 362.25 201.75 363.70 202.20C365.15 202.65 366.47 204.05 367.70 205.10C368.93 206.15 369.87 206.48 371.10 208.50C372.33 210.52 373.77 214.42 375.10 217.20C376.43 219.98 377.87 222.52 379.10 225.20C380.33 227.88 381.60 230.62 382.50 233.30C383.40 235.98 383.72 237.95 384.50 241.30C385.28 244.65 386.52 250.95 387.20 253.40C387.88 255.85 387.55 253.00 388.60 256.00C389.65 259.00 391.70 267.18 393.50 271.40C395.30 275.62 397.43 279.07 399.40 281.30C401.37 283.53 403.50 284.65 405.30 284.80C407.10 284.95 408.57 283.62 410.20 282.20C411.83 280.78 413.30 281.67 415.10 276.30C416.90 270.93 419.35 256.55 421.00 250.00C422.65 243.45 423.73 241.25 425.00 237.00C426.27 232.75 427.13 228.43 428.60 224.50C430.07 220.57 431.87 216.77 433.80 213.40C435.73 210.03 438.13 207.57 440.20 204.30C442.27 201.03 444.37 196.82 446.20 193.80C448.03 190.78 449.73 188.03 451.20 186.20C452.67 184.37 453.85 183.47 455.00 182.80C456.15 182.13 457.10 181.83 458.10 182.20C459.10 182.57 459.85 185.02 461.00 185.00C462.15 184.98 463.15 184.80 465.00 182.10C466.85 179.40 470.02 172.97 472.10 168.80C474.18 164.63 475.85 160.53 477.50 157.10C479.15 153.67 480.52 150.28 482.00 148.20C483.48 146.12 485.07 145.48 486.40 144.60C487.73 143.72 488.80 142.00 490.00 142.90C491.20 143.80 492.42 147.03 493.60 150.00C494.78 152.97 496.03 157.13 497.10 160.70C498.17 164.27 498.70 166.68 500.00 171.40C501.30 176.12 503.50 184.23 504.90 189.00C506.30 193.77 507.33 196.73 508.40 200.00C509.47 203.27 510.10 205.27 511.30 208.60C512.50 211.93 514.17 215.95 515.60 220.00C517.03 224.05 518.75 228.73 519.90 232.90C521.05 237.07 521.65 240.98 522.50 245.00C523.35 249.02 523.95 253.75 525.00 257.00C526.05 260.25 527.33 264.00 528.80 264.50C530.27 265.00 532.13 261.53 533.80 260.00C535.47 258.47 537.35 256.50 538.80 255.30C540.25 254.10 541.27 252.80 542.50 252.80C543.73 252.80 544.95 254.57 546.20 255.30C547.45 256.03 548.53 257.30 550.00 257.20C551.47 257.10 553.53 255.90 555.00 254.70C556.47 253.50 557.65 251.62 558.80 250.00C559.95 248.38 560.87 247.08 561.90 245.00C562.93 242.92 563.97 239.17 565.00 237.50C566.03 235.83 566.93 235.83 568.10 235.00C569.27 234.17 570.57 232.23 572.00 232.50C573.43 232.77 575.13 236.60 576.70 236.60C578.27 236.60 579.95 233.73 581.40 232.50C582.85 231.27 583.83 229.63 585.40 229.20C586.97 228.77 589.12 230.02 590.80 229.90C592.48 229.78 593.93 228.62 595.50 228.50C597.07 228.38 598.75 229.42 600.20 229.20C601.65 228.98 602.87 228.10 604.20 227.20C605.53 226.30 606.87 225.60 608.20 223.80C609.53 222.00 610.87 218.63 612.20 216.40C613.53 214.17 614.85 212.47 616.20 210.40C617.55 208.33 619.32 205.62 620.30 204.00C621.28 202.38 621.12 202.82 622.10 200.70C623.08 198.58 624.85 193.98 626.20 191.30C627.55 188.62 628.87 186.62 630.20 184.60C631.53 182.58 632.87 180.77 634.20 179.20C635.53 177.63 637.08 176.05 638.20 175.20C639.32 174.35 640.00 173.98 640.90 174.10C641.80 174.22 642.90 175.43 643.60 175.90C644.30 176.37 644.00 175.60 645.10 176.90C646.20 178.20 648.50 181.15 650.20 183.70C651.90 186.25 653.60 189.37 655.30 192.20C657.00 195.03 658.70 198.17 660.40 200.70C662.10 203.23 663.80 205.43 665.50 207.40C667.20 209.37 668.90 210.93 670.60 212.50C672.30 214.07 674.30 216.37 675.70 216.80C677.10 217.23 677.60 216.67 679.00 215.10C680.40 213.53 682.40 210.52 684.10 207.40C685.80 204.28 687.50 199.50 689.20 196.40C690.90 193.30 692.48 190.92 694.30 188.80C696.12 186.68 698.73 185.33 700.10 183.70C701.47 182.07 701.68 181.28 702.50 179.00C703.32 176.72 703.98 173.65 705.00 170.00C706.02 166.35 707.28 161.38 708.60 157.10C709.92 152.82 711.72 147.98 712.90 144.30C714.08 140.62 714.75 137.38 715.70 135.00C716.65 132.62 717.40 131.78 718.60 130.00C719.80 128.22 721.48 126.20 722.90 124.30C724.32 122.40 725.68 120.38 727.10 118.60C728.52 116.82 729.97 115.27 731.40 113.60C732.83 111.93 734.60 109.73 735.70 108.60C736.80 107.47 736.63 108.08 738.00 106.80C739.37 105.52 742.27 102.22 743.90 100.90C745.53 99.58 746.17 98.57 747.80 98.90C749.43 99.23 751.73 101.75 753.70 102.90C755.67 104.05 757.63 105.80 759.60 105.80C761.57 105.80 763.53 104.37 765.50 102.90C767.47 101.43 769.60 98.45 771.40 97.00C773.20 95.55 774.63 94.15 776.30 94.20C777.97 94.25 779.88 96.18 781.40 97.30C782.92 98.42 784.07 100.18 785.40 100.90C786.73 101.62 788.07 101.48 789.40 101.60C790.73 101.72 792.17 101.67 793.40 101.60C794.63 101.53 795.68 100.53 796.80 101.20C797.92 101.87 799.10 103.97 800.10 105.60C801.10 107.23 801.45 107.00 802.80 111.00C804.15 115.00 806.85 124.50 808.20 129.60C809.55 134.70 809.92 138.27 810.90 141.60C811.88 144.93 813.03 146.38 814.10 149.60C815.17 152.82 815.97 157.68 817.30 160.90C818.63 164.12 820.63 167.30 822.10 168.90C823.57 170.50 824.75 169.95 826.10 170.50C827.45 171.05 828.85 172.45 830.20 172.20C831.55 171.95 832.68 171.62 834.20 169.00C835.72 166.38 837.65 161.15 839.30 156.50C840.95 151.85 842.50 144.73 844.10 141.10C845.70 137.47 847.28 136.37 848.90 134.70C850.52 133.03 852.18 131.85 853.80 131.10C855.42 130.35 857.13 130.15 858.60 130.20C860.07 130.25 861.27 130.65 862.60 131.40C863.93 132.15 865.18 133.70 866.60 134.70C868.02 135.70 869.50 135.55 871.10 137.40C872.70 139.25 874.50 143.27 876.20 145.80C877.90 148.33 879.60 150.90 881.30 152.60C883.00 154.30 884.70 156.00 886.40 156.00C888.10 156.00 889.80 153.73 891.50 152.60C893.20 151.47 894.90 150.05 896.60 149.20C898.30 148.35 900.05 147.87 901.70 147.50C903.35 147.13 904.88 147.42 906.50 147.00C908.12 146.58 909.87 146.17 911.40 145.00C912.93 143.83 914.50 141.43 915.70 140.00C916.90 138.57 918.12 137.00 918.60 136.40" stroke="#a52a2a" stroke-width="1" fill="none"/><rect x="18.5" y="22.5" width="909" height="503" stroke="#000" stroke-width="1" fill="none"/><path d="M16 524.5H18M928 524.5H930M16 515.5H18M928 515.5H930M16 507.5H18M928 507.5H930M16 497.5H18M928 497.5H930M16 488.5H18M928 488.5H930M16 479.5H18M928 479.5H930M16 470.5H18M928 470.5H930M16 461.5H18M928 461.5H930M16 452.5H18M928 452.5H930M16 443.5H18M928 443.5H930M16 434.5H18M928 434.5H930M16 425.5H18M928 425.5H930M16 417.5H18M928 417.5H930M16 407.5H18M928 407.5H930M16 398.5H18M928 398.5H930M16 388.5H18M928 388.5H930M16 379.5H18M928 379.5H930M16 370.5H18M928 370.5H930M16 361.5H18M928 361.5H930M16 352.5H18M928 352.5H930M16 343.5H18M928 343.5H930M16 334.5H18M928 334.5H930M16 326.5H18M928 326.5H930M16 316.5H18M928 316.5H930M16 307.5H18M928 307.5H930M16 298.5H18M928 298.5H930M16 289.5H18M928 289.5H930M16 280.5H18M928 280.5H930M16 271.5H18M928 271.5H930M16 262.5H18M928 262.5H930M16 253.5H18M928 253.5H930M16 244.5H18M928 244.5H930M16 236.5H18M928 236.5H930M16 226.5H18M928 226.5H930M16 217.5H18M928 217.5H930M16 208.5H18M928 208.5H930M16 199.5H18M928 199.5H930M16 190.5H18M928 190.5H930M16 181.5H18M928 181.5H930M16 172.5H18M928 172.5H930M16 162.5H18M928 162.5H930M16 153.5H18M928 153.5H930M16 146.5H18M928 146.5H930M16 135.5H18M928 135.5H930M16 126.5H18M928 126.5H930M16 117.5H18M928 117.5H930M16 108.5H18M928 108.5H930M16 99.5H18M928 99.5H930M16 90.5H18M928 90.5H930M16 81.5H18M928 81.5H930M16 72.5H18M928 72.5H930M16 63.5H18M928 63.5H930M16 55.5H18M928 55.5H930M16 45.5H18M928 45.5H930M16 36.5H18M928 36.5H930M16 27.5H18M928 27.5H930M22.5 526V529M26.5 526V527M29.5 526V527M33.5 526V527M37.5 526V527M41.5 526V527M44.5 526V527M48.5 526V527M52.5 526V527M56.5 526V527M59.5 526V527M63.5 526V527M67.5 526V529M71.5 526V527M74.5 526V527M78.5 526V527M82.5 526V527M86.5 526V527M89.5 526V527M93.5 526V527M97.5 526V527M101.5 526V527M104.5 526V527M108.5 526V527M112.5 526V529M116.5 526V527M120.5 526V527M123.5 526V527M127.5 526V527M131.5 526V527M135.5 526V527M138.5 526V527M142.5 526V527M146.5 526V527M150.5 526V527M153.5 526V527M157.5 526V529M161.5 526V527M165.5 526V527M168.5 526V527M172.5 526V527M176.5 526V527M180.5 526V527M183.5 526V527M187.5 526V527M191.5 526V527M195.5 526V527M198.5 526V527M202.5 526V529M206.5 526V527M210.5 526V527M213.5 526V527M217.5 526V527M221.5 526V527M225.5 526V527M229.5 526V527M232.5 526V527M236.5 526V527M240.5 526V527M244.5 526V527M247.5 526V529M251.5 526V527M255.5 526V527M259.5 526V527M262.5 526V527M266.5 526V527M270.5 526V527M274.5 526V527M277.5 526V527M281.5 526V527M285.5 526V527M289.5 526V527M292.5 526V529M296.5 526V527M300.5 526V527M304.5 526V527M307.5 526V527M311.5 526V527M315.5 526V527M319.5 526V527M323.5 526V527M326.5 526V527M330.5 526V527M334.5 526V527M338.5 526V529M341.5 526V527M345.5 526V527M349.5 526V527M353.5 526V527M356.5 526V527M360.5 526V527M364.5 526V527M368.5 526V527M371.5 526V527M375.5 526V527M379.5 526V527M383.5 526V529M386.5 526V527M390.5 526V527M394.5 526V527M398.5 526V527M401.5 526V527M405.5 526V527M409.5 526V527M413.5 526V527M416.5 526V527M420.5 526V527M424.5 526V527M428.5 526V529M432.5 526V527M435.5 526V527M439.5 526V527M443.5 526V527M447.5 526V527M450.5 526V527M454.5 526V527M458.5 526V527M462.5 526V527M465.5 526V527M469.5 526V527M473.5 526V529M477.5 526V527M480.5 526V527M484.5 526V527M488.5 526V527M492.5 526V527M495.5 526V527M499.5 526V527M503.5 526V527M507.5 526V527M510.5 526V527M514.5 526V527M518.5 526V529M522.5 526V527M525.5 526V527M529.5 526V527M533.5 526V527M537.5 526V527M541.5 526V527M544.5 526V527M548.5 526V527M552.5 526V527M556.5 526V527M559.5 526V527M563.5 526V529M567.5 526V527M571.5 526V527M574.5 526V527M578.5 526V527M582.5 526V527M586.5 526V527M589.5 526V527M593.5 526V527M597.5 526V527M601.5 526V527M604.5 526V527M608.5 526V529M612.5 526V527M616.5 526V527M619.5 526V527M623.5 526V527M627.5 526V527M631.5 526V527M634.5 526V527M638.5 526V527M642.5 526V527M646.5 526V527M650.5 526V527M653.5 526V529M657.5 526V527M661.5 526V527M665.5 526V527M668.5 526V527M672.5 526V527M676.5 526V527M680.5 526V527M683.5 526V527M687.5 526V527M691.5 526V527M695.5 526V527M698.5 526V529M702.5 526V527M706.5 526V527M710.5 526V527M713.5 526V527M717.5 526V527M721.5 526V527M725.5 526V527M728.5 526V527M732.5 526V527M736.5 526V527M740.5 526V527M743.5 526V529M747.5 526V527M751.5 526V527M755.5 526V527M759.5 526V527M762.5 526V527M766.5 526V527M770.5 526V527M774.5 526V527M777.5 526V527M781.5 526V527M785.5 526V527M789.5 526V529M792.5 526V527M796.5 526V527M800.5 526V527M804.5 526V527M807.5 526V527M811.5 526V527M815.5 526V527M819.5 526V527M822.5 526V527M826.5 526V527M830.5 526V527M834.5 526V529M837.5 526V527M841.5 526V527M845.5 526V527M849.5 526V527M852.5 526V527M856.5 526V527M860.5 526V527M864.5 526V527M868.5 526V527M871.5 526V527M875.5 526V527M879.5 526V529M883.5 526V527M886.5 526V527M890.5 526V527M894.5 526V527M898.5 526V527M901.5 526V527M905.5 526V527M909.5 526V527M913.5 526V527M916.5 526V527M920.5 526V527" stroke="#000" stroke-width="1" fill="none"/><text filter="url(#al)" x="931" y="512.5" class="ax">10</text><text filter="url(#al)" x="931" y="422.5" class="ax">20</text><text filter="url(#al)" x="931" y="331.5" class="ax">30</text><text filter="url(#al)" x="931" y="241.5" class="ax">40</text><text filter="url(#al)" x="931" y="151.5" class="ax">50</text><text filter="url(#al)" x="931" y="60.5" class="ax">60</text><text filter="url(#al)" x="23.8" y="540.4" class="ax" text-anchor="middle">1992</text><text filter="url(#al)" x="68.8" y="540.4" class="ax" text-anchor="middle">1993</text><text filter="url(#al)" x="113.8" y="540.4" class="ax" text-anchor="middle">1994</text><text filter="url(#al)" x="158.8" y="540.4" class="ax" text-anchor="middle">1995</text><text filter="url(#al)" x="203.8" y="540.4" class="ax" text-anchor="middle">1996</text><text filter="url(#al)" x="248.8" y="540.4" class="ax" text-anchor="middle">1997</text><text filter="url(#al)" x="293.8" y="540.4" class="ax" text-anchor="middle">1998</text><text filter="url(#al)" x="339.8" y="540.4" class="ax" text-anchor="middle">1999</text><text filter="url(#al)" x="384.8" y="540.4" class="ax" text-anchor="middle">2000</text><text filter="url(#al)" x="429.8" y="540.4" class="ax" text-anchor="middle">2001</text><text filter="url(#al)" x="474.8" y="540.4" class="ax" text-anchor="middle">2002</text><text filter="url(#al)" x="519.8" y="540.4" class="ax" text-anchor="middle">2003</text><text filter="url(#al)" x="564.8" y="540.4" class="ax" text-anchor="middle">2004</text><text filter="url(#al)" x="609.8" y="540.4" class="ax" text-anchor="middle">2005</text><text filter="url(#al)" x="654.8" y="540.4" class="ax" text-anchor="middle">2006</text><text filter="url(#al)" x="699.8" y="540.4" class="ax" text-anchor="middle">2007</text><text filter="url(#al)" x="744.8" y="540.4" class="ax" text-anchor="middle">2008</text><text filter="url(#al)" x="790.8" y="540.4" class="ax" text-anchor="middle">2009</text><text filter="url(#al)" x="835.8" y="540.4" class="ax" text-anchor="middle">2010</text><text filter="url(#al)" x="880.8" y="540.4" class="ax" text-anchor="middle">2011</text></svg>
<div class="t" id="title">Abbott Laboratories (ABT) 53.23 <span>-0.54</span></div>
<div class="t" id="site">www.fullermoney.com</div>
<div class="t" id="date">17 Nov 2011</div>
<div class="t" id="wk">Weekly</div>
<div class="t" id="ma">MA 200</div>
<div class="t" id="copy">&copy; 2011 Stockcube Research Ltd</div>
</body></html>
